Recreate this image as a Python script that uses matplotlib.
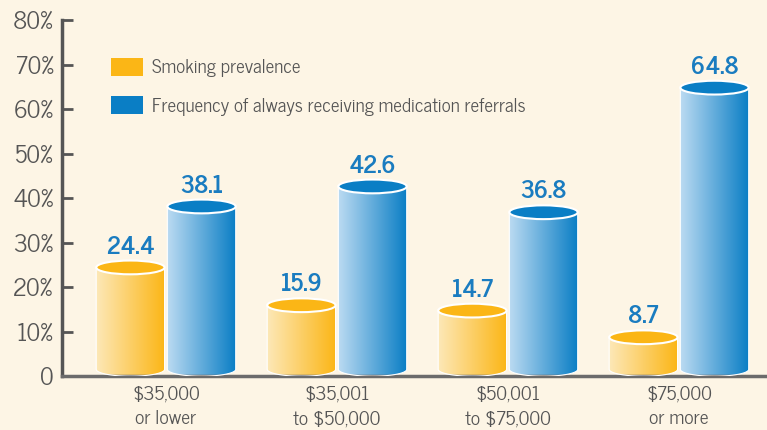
#!/usr/bin/env python3
"""Cylinder bar chart: smoking prevalence vs medication referral frequency by income."""
import matplotlib
matplotlib.use("Agg")
import matplotlib.pyplot as plt
import numpy as np
from matplotlib.colors import LinearSegmentedColormap
from matplotlib.patches import Ellipse, Polygon, Patch

categories = ["$35,000\nor lower", "$35,001\nto $50,000", "$50,001\nto $75,000", "$75,000\nor more"]
smoking = [24.4, 15.9, 14.7, 8.7]
referrals = [38.1, 42.6, 36.8, 64.8]
series_names = ["Smoking prevalence", "Frequency of always receiving medication referrals"]
yticks = [0, 10, 20, 30, 40, 50, 60, 70, 80]
ytick_labels = ["0", "10%", "20%", "30%", "40%", "50%", "60%", "70%", "80%"]

BG = "#fdf5e5"
GREY = "#555555"
LABEL_BLUE = "#1a7cc0"
YELLOW = ("#fde8b8", "#fbb616")
BLUE = ("#bcdbf2", "#0a7ec5")

plt.rcParams["font.family"] = ["News Cycle", "DejaVu Sans"]

BAR_W = 0.40
OFFSET = 0.208
ELL_H = 3.1     # ellipse height in data units
BASE = 1.5      # bottom ellipse centre sits a little above the axis line


def cylinder(ax, xc, value, colors):
    x0, x1 = xc - BAR_W / 2, xc + BAR_W / 2
    theta = np.linspace(0, -np.pi, 60)
    bottom = np.column_stack([xc + BAR_W / 2 * np.cos(theta),
                              BASE + ELL_H / 2 * np.sin(theta)])
    pts = np.vstack([[[x0, value], [x1, value]], bottom])
    body = Polygon(pts, closed=True, facecolor="none", edgecolor="white", lw=0.8, zorder=3)
    ax.add_patch(body)
    cmap = LinearSegmentedColormap.from_list("g", list(colors))
    im = ax.imshow(np.linspace(0, 1, 256)[None, :], extent=[x0, x1, BASE - ELL_H, value],
                   cmap=cmap, aspect="auto", interpolation="bicubic", zorder=2)
    im.set_clip_path(body)
    top = Ellipse((xc, value), BAR_W, ELL_H, facecolor=colors[1], edgecolor="white",
                  lw=1.5, zorder=4)
    ax.add_patch(top)
    ax.annotate(f"{value:.1f}", (xc, value + ELL_H / 2), xytext=(0, 5),
                textcoords="offset points", ha="center", va="baseline",
                fontsize=17.5, fontweight="bold", color=LABEL_BLUE, zorder=5)


fig = plt.figure(figsize=(7.67, 4.30), dpi=100, facecolor=BG)
ax = fig.add_axes([62 / 767, 54 / 430, 705 / 767, 356 / 430])
ax.set_facecolor(BG)

x = np.arange(len(categories))
for i in x:
    cylinder(ax, i - OFFSET, smoking[i], YELLOW)
    cylinder(ax, i + OFFSET, referrals[i], BLUE)

ax.set_xlim(-0.608, 3.515)
ax.set_ylim(0, 80)

for s in ["top", "right"]:
    ax.spines[s].set_visible(False)
ax.spines["left"].set_color(GREY)
ax.spines["left"].set_linewidth(2.5)
ax.spines["bottom"].set_color("#6b6b6b")
ax.spines["bottom"].set_linewidth(2.5)

ax.set_yticks(yticks, ytick_labels)
ax.tick_params(axis="y", direction="in", length=8, width=2, color=GREY,
               labelsize=17.5, labelcolor=GREY, pad=6)
ax.set_xticks(x, categories)
ax.tick_params(axis="x", length=0, labelsize=14, labelcolor=GREY, pad=7)
for lbl in ax.get_xticklabels():
    lbl.set_linespacing(1.45)

handles = [Patch(facecolor=YELLOW[1], edgecolor="none"),
           Patch(facecolor=BLUE[1], edgecolor="none")]
ax.legend(handles, series_names, loc="upper left", bbox_to_anchor=(0.069, 0.893),
          frameon=False, fontsize=13.7, labelcolor=GREY, borderpad=0, borderaxespad=0,
          handlelength=1.72, handleheight=1.05, handletextpad=0.45, labelspacing=1.0)

fig.savefig("out.png", dpi=100, facecolor=BG)
